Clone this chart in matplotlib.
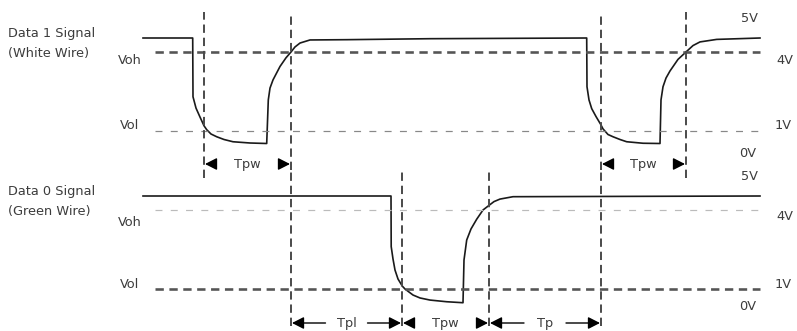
import numpy as np
import matplotlib
matplotlib.use('Agg')
import matplotlib.pyplot as plt

plt.rcParams['font.family'] = ['DejaVu Sans']
plt.rcParams['lines.scale_dashes'] = False

# Data 1 signal (white wire), time units and volts
d1_t = [143, 192.7, 193, 196, 200, 204, 206.7, 211, 216.7, 224, 233, 250, 266.7,
        268.3, 270, 273, 280, 286, 291, 295, 300, 310, 347, 430, 586.7,
        587, 589, 591.7, 596, 600.7, 603, 608, 613, 620, 626.7, 643, 660,
        661, 663, 666, 670, 678, 686, 693, 700, 716.7, 760]
d1_v = [5.0, 5.0, 2.3, 1.87, 1.53, 1.2, 1.05, 0.76, 0.54, 0.32, 0.14, 0.04, 0.0,
        2.18, 2.63, 2.94, 3.45, 3.78, 4.0, 4.36, 4.64, 4.86, 4.88, 4.95, 5.0,
        2.68, 2.18, 1.85, 1.55, 1.25, 1.08, 0.72, 0.54, 0.32, 0.14, 0.02, 0.0,
        2.18, 2.68, 3.01, 3.28, 3.72, 4.0, 4.46, 4.72, 4.9, 5.0]

# Data 0 signal (green wire)
d0_t = [143, 391, 391.2, 393, 395, 398, 402.3, 405, 413, 420, 430, 446.7, 463,
        464, 466.7, 471, 476.7, 483, 489, 494, 500, 513, 760]
d0_v = [5.0, 5.0, 2.61, 2.14, 1.72, 1.38, 1.11, 1.0, 0.57, 0.36, 0.21, 0.09, 0.02,
        2.10, 2.86, 3.28, 3.65, 4.0, 4.33, 4.6, 4.78, 4.95, 5.0]

levels = [0, 1, 4, 5]
level_labels = ['0V', '1V', '4V', '5V']

top_marks = [204, 291, 601, 686]
bot_marks = [291, 402, 489, 601]

top_spans = [(204, 291, 'Tpw'), (601, 686, 'Tpw')]
bot_spans = [(291, 402, 'Tpl'), (402, 489, 'Tpw'), (489, 601, 'Tp')]

W, H = 797, 331
TXT = '#3c3c3c'
FS = 9.3


def level_scale(h1, h4, h5):
    # drawn height of 1V, 4V, 5V above the 0V line (diagram is not to scale)
    v = [-10, 0, 1, 4, 5, 15]
    h = [-10 * h1, 0, h1, h4, h5, h5 + 10 * (h5 - h4)]
    return (lambda x: np.interp(x, v, h)), (lambda y: np.interp(y, h, v))


fig = plt.figure(figsize=(W / 100, H / 100), dpi=100)
ax1 = fig.add_axes([0, 1 - 170 / H, 1, 170 / H])
ax0 = fig.add_axes([0, 0, 1, 161 / H])

setup = [
    (ax1, d1_t, d1_v, level_scale(12.5, 91.5, 105.5), (-26.5, 143.5),
     ('Data 1 Signal', '(White Wire)'), top_marks, top_spans,
     dict(voh=('#555555', 2.6, (6, 4)), vol=('#888888', 1.2, (5, 6)))),
    (ax0, d0_t, d0_v, level_scale(14, 93, 107), (-28, 133),
     ('Data 0 Signal', '(Green Wire)'), bot_marks, bot_spans,
     dict(voh=('#bbbbbb', 1.2, (5, 6)), vol=('#555555', 2.6, (6, 4)))),
]

for ax, t, v, (fwd, inv), hlim, names, marks, spans, styles in setup:
    ax.set_yscale('function', functions=(fwd, inv))
    ax.set_xlim(0, W)
    ax.set_ylim(inv(hlim[0]), inv(hlim[1]))
    ax.axis('off')

    ax.plot(t, v, color='#1a1a1a', lw=1.2, solid_joinstyle='round')

    for lvl, key in [(4, 'voh'), (1, 'vol')]:
        c, lw, dash = styles[key]
        ax.plot([155, 760], [lvl, lvl], color=c, lw=lw * 0.72, dashes=dash)

    # left labels
    ax.annotate(names[0], xy=(8, 5), xytext=(0, 4), textcoords='offset pixels',
                ha='left', va='center', fontsize=FS, color=TXT)
    ax.annotate(names[1], xy=(8, 5), xytext=(0, -16), textcoords='offset pixels',
                ha='left', va='center', fontsize=FS, color=TXT)

top_off = {'Voh': -9, 'Vol': 6}
bot_off = {'Voh': -13, 'Vol': 5}
for ax, off in [(ax1, top_off), (ax0, bot_off)]:
    ax.annotate('Voh', xy=(130, 4), xytext=(0, off['Voh']), textcoords='offset pixels',
                ha='center', va='center', fontsize=FS, color=TXT)
    ax.annotate('Vol', xy=(130, 1), xytext=(0, off['Vol']), textcoords='offset pixels',
                ha='center', va='center', fontsize=FS, color=TXT)

# right voltage labels
right_x = {0: 748, 1: 783, 4: 785, 5: 749}
top_r = {0: -9.5, 1: 6, 4: -8, 5: 20}
bot_r = {0: -4, 1: 5, 4: -6, 5: 20}
for ax, off in [(ax1, top_r), (ax0, bot_r)]:
    for lvl, lab in zip(levels, level_labels):
        ax.annotate(lab, xy=(right_x[lvl], lvl), xytext=(0, off[lvl]),
                    textcoords='offset pixels', ha='center', va='center',
                    fontsize=FS, color=TXT)

# vertical timing markers
vdash = dict(color='#4a4a4a', lw=1.4, dashes=(6, 3.5), clip_on=False)
for x in top_marks:
    lo = 0.0 if x in bot_marks else -0.047
    ax1.axvline(x, ymin=lo, ymax=(170 - 12) / 170, **vdash)
for x in bot_marks:
    hi = 1.0 if x in top_marks else (331 - 168) / 161
    ax0.axvline(x, ymin=(331 - 326) / 161, ymax=hi, **vdash)

# pulse width arrows
arrow = dict(arrowstyle='-|>,head_length=0.55,head_width=0.28', color='black',
             lw=1.0, mutation_scale=13, shrinkA=0, shrinkB=0)
for ax, spans, yf in [(ax1, top_spans, (170 - 164) / 170), (ax0, bot_spans, (331 - 323) / 161)]:
    tr = ax.get_xaxis_transform()
    for a, b, lab in spans:
        mid = (a + b) / 2
        if b - a > 100:
            ta, tb = mid - 21, mid + 21
        else:
            ta, tb = a + 11, b - 11
        ax.text(mid, yf, lab, transform=tr, ha='center', va='center',
                fontsize=FS, color=TXT)
        ax.annotate('', xy=(a + 1, yf), xytext=(ta, yf), xycoords=tr, textcoords=tr,
                    arrowprops=arrow)
        ax.annotate('', xy=(b - 1, yf), xytext=(tb, yf), xycoords=tr, textcoords=tr,
                    arrowprops=arrow)

fig.savefig('out.png', dpi=100)
